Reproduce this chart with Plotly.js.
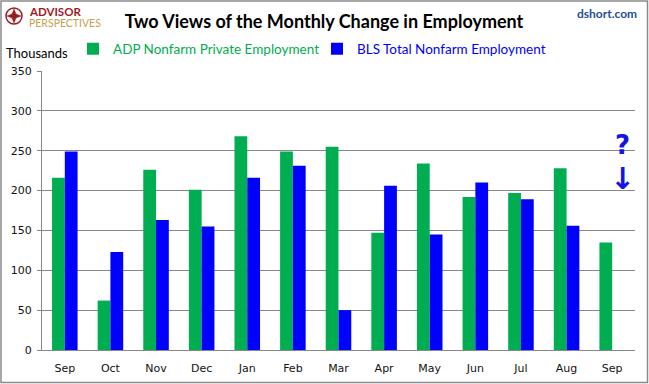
<!DOCTYPE html>
<html>
<head>
<meta charset="utf-8">
<script src="https://cdn.plot.ly/plotly-3.0.1.min.js"></script>
<style>html,body{margin:0;padding:0;background:#fff;}#chart{width:649px;height:384px;}</style>
</head>
<body>
<div id="chart"></div>
<script>
// Data
const months = ["Sep","Oct","Nov","Dec","Jan","Feb","Mar","Apr","May","Jun","Jul","Aug","Sep"];
const adpValues = [216, 62, 226, 201, 268, 249, 255, 147, 234, 192, 197, 228, 135];
const blsValues = [249, 123, 163, 155, 216, 231, 50, 206, 145, 210, 189, 156, null];
const seriesNames = ["ADP Nonfarm Private Employment", "BLS Total Nonfarm Employment"];
const yTicks = [0, 50, 100, 150, 200, 250, 300, 350];

const W = 649, H = 384;
const M = {l: 42, r: 14, t: 71, b: 34};
const pw = W - M.l - M.r, ph = H - M.t - M.b;
const px = x => (x - M.l) / pw;
const py = y => (H - M.b - y) / ph;

const xIdx = months.map((m, i) => i);
const green = "#00AD50", blue = "#0000FF";

const traces = [
  {type: "bar", x: xIdx, y: adpValues, name: '<span style="color:' + green + '">' + seriesNames[0] + '</span>',
   marker: {color: green}, hoverinfo: "y", legend: "legend"},
  {type: "bar", x: xIdx, y: blsValues, name: '<span style="color:' + blue + '">' + seriesNames[1] + '</span>',
   marker: {color: blue}, hoverinfo: "y", legend: "legend2"}
];

// logo star path
const cx = 14, cy = 16;
function pt(x, y) { return px(x) + "," + py(y); }
const star = "M" + pt(cx, cy - 7) + " L" + pt(cx + 2, cy - 2) + " L" + pt(cx + 7, cy) + " L" + pt(cx + 2, cy + 2) +
  " L" + pt(cx, cy + 7) + " L" + pt(cx - 2, cy + 2) + " L" + pt(cx - 7, cy) + " L" + pt(cx - 2, cy - 2) + " Z";

const legendBase = {orientation: "h", xanchor: "left", y: py(49), yanchor: "middle",
                    font: {family: "Lato", size: 13.5}, bgcolor: "rgba(0,0,0,0)", itemwidth: 30};

const layout = {
  width: W, height: H,
  margin: M,
  paper_bgcolor: "#fff", plot_bgcolor: "#fff",
  barmode: "group", bargap: 0.44, bargroupgap: 0,
  font: {family: "DejaVu Sans", size: 11, color: "#222"},
  title: {text: "<b>Two Views of the Monthly Change in Employment</b>",
          font: {family: "Lato", size: 18, color: "#000"},
          x: 324 / W, xanchor: "center", xref: "container",
          y: 1 - 22 / H, yanchor: "middle", yref: "container"},
  showlegend: true,
  legend: Object.assign({}, legendBase, {x: px(73)}),
  legend2: Object.assign({}, legendBase, {x: px(317)}),
  xaxis: {range: [-0.5, 12.5], tickmode: "array", tickvals: xIdx, ticktext: months,
          showgrid: false, zeroline: false, showline: true, linecolor: "#888", linewidth: 1,
          ticks: "", ticklabelstandoff: 8, tickfont: {family: "DejaVu Sans", size: 11, color: "#111"},
          fixedrange: true},
  yaxis: {range: [0, 350], tickmode: "array", tickvals: yTicks,
          showgrid: true, gridcolor: "#888", gridwidth: 1, zeroline: false,
          showline: true, linecolor: "#888", linewidth: 1,
          ticks: "outside", ticklen: 4, tickcolor: "#888", ticklabelstandoff: 3,
          tickfont: {family: "DejaVu Sans", size: 11, color: "#111"}, fixedrange: true},
  shapes: [
    {type: "rect", xref: "paper", yref: "paper", x0: px(1), x1: px(647.5), y0: py(1), y1: py(382.5),
     line: {color: "#8a8a8a", width: 1.5}, fillcolor: "rgba(0,0,0,0)", layer: "above"},
    {type: "circle", xref: "paper", yref: "paper", x0: px(cx - 8), x1: px(cx + 8), y0: py(cy - 8), y1: py(cy + 8),
     line: {color: "#9B1B1E", width: 1.5}, fillcolor: "rgba(0,0,0,0)"},
    {type: "path", xref: "paper", yref: "paper", path: star, line: {color: "#9B1B1E", width: 0.5}, fillcolor: "#9B1B1E"}
  ],
  annotations: [
    {xref: "paper", yref: "paper", x: px(27), y: py(11.5), xanchor: "left", yanchor: "middle", showarrow: false,
     text: "<b>ADVISOR</b>", font: {family: "Lato", size: 11.5, color: "#9B1B1E"}},
    {xref: "paper", yref: "paper", x: px(27), y: py(22.5), xanchor: "left", yanchor: "middle", showarrow: false,
     text: "PERSPECTIVES", font: {family: "Lato", size: 10.5, color: "#C5A04E"}},
    {xref: "paper", yref: "paper", x: px(639), y: py(14), xanchor: "right", yanchor: "middle", showarrow: false,
     text: "<b>dshort.com</b>", font: {family: "Lato", size: 12, color: "#1F4E99"}},
    {xref: "paper", yref: "paper", x: px(4), y: py(53), xanchor: "left", yanchor: "middle", showarrow: false,
     text: "Thousands", font: {family: "Lato", size: 13, color: "#000"}},
    {xref: "x", yref: "y", x: 12.23, y: 257, xanchor: "center", yanchor: "middle", showarrow: false,
     text: "<b>?</b>", font: {family: "DejaVu Sans", size: 26, color: "#1414E6"}},
    {xref: "x", yref: "y", x: 12.23, y: 215, xanchor: "center", yanchor: "middle", showarrow: false,
     text: "<b>↓</b>", font: {family: "DejaVu Sans", size: 30, color: "#1414E6"}}
  ]
};

Plotly.newPlot("chart", traces, layout, {displayModeBar: false, staticPlot: true});
</script>
</body>
</html>
